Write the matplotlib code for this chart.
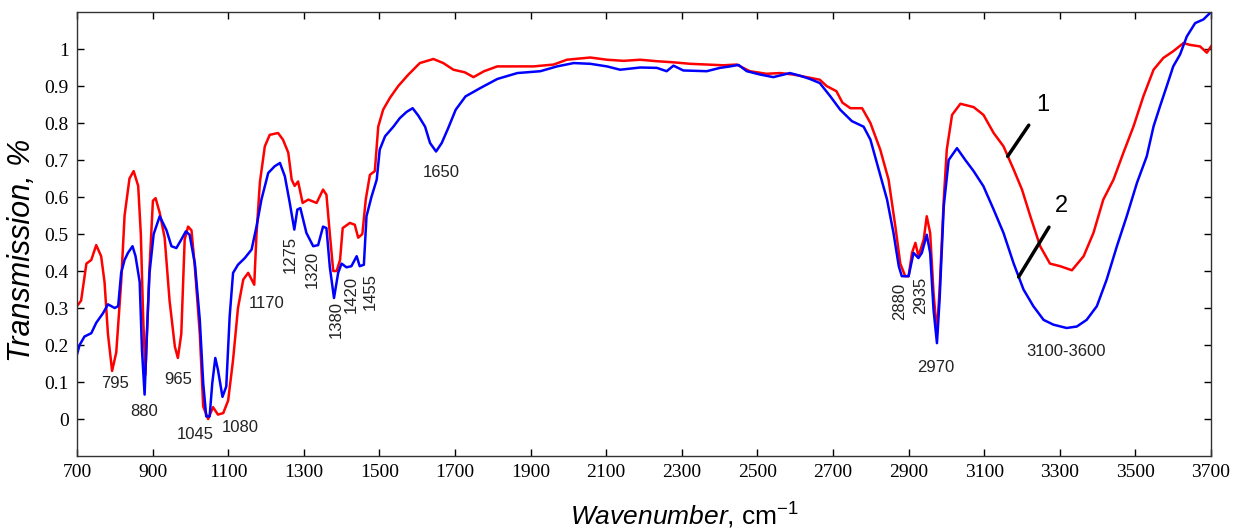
import matplotlib
matplotlib.use("Agg")
import matplotlib.pyplot as plt
import numpy as np

plt.rcParams["mathtext.fontset"] = "custom"
plt.rcParams["mathtext.rm"] = "Liberation Sans"
plt.rcParams["mathtext.it"] = "Liberation Sans:italic"

# curve 1 (red)
wn_1 = [700, 711, 725, 738, 751, 764, 773, 782, 793, 804, 817, 826, 839, 850, 862, 869, 875, 881, 886, 892,
        901, 908, 919, 932, 945, 959, 967, 976, 985, 994, 1003, 1012, 1025, 1034, 1047, 1060, 1073, 1087, 1100,
        1113, 1126, 1140, 1153, 1162, 1169, 1175, 1184, 1197, 1210, 1232, 1245, 1259, 1268, 1276, 1285, 1297,
        1312, 1334, 1351, 1360, 1369, 1378, 1387, 1396, 1403, 1422, 1435, 1444, 1455, 1464, 1475, 1488, 1497,
        1510, 1528, 1550, 1576, 1607, 1643, 1669, 1696, 1726, 1749, 1777, 1812, 1856, 1908, 1961, 1996, 2058,
        2102, 2146, 2190, 2234, 2278, 2322, 2366, 2410, 2445, 2480, 2524, 2560, 2595, 2630, 2665, 2683, 2709,
        2725, 2746, 2777, 2799, 2825, 2847, 2865, 2878, 2891, 2900, 2909, 2918, 2926, 2940, 2948, 2957, 2966,
        2975, 2982, 2993, 3001, 3015, 3037, 3072, 3098, 3125, 3151, 3178, 3200, 3222, 3248, 3274, 3301, 3332,
        3363, 3389, 3415, 3442, 3468, 3495, 3521, 3548, 3574, 3600, 3627, 3645, 3671, 3689, 3700]
tr_1 = [.305, .32, .42, .43, .47, .44, .37, .23, .13, .18, .37, .55, .65, .67, .63, .50, .28, .12, .25, .41,
        .59, .597, .557, .49, .32, .196, .165, .23, .485, .52, .51, .41, .23, .034, 0.0, .032, .012, .016, .05,
        .16, .30, .377, .395, .377, .363, .50, .64, .737, .768, .773, .755, .72, .647, .63, .642, .584,
        .593, .584, .62, .606, .50, .40, .40, .43, .516, .53, .525, .49, .50, .593, .66, .67, .79,
        .836, .868, .90, .93, .962, .973, .962, .944, .937, .924, .94, .953, .953, .953, .958, .971, .977,
        .971, .968, .971, .967, .964, .96, .958, .956, .958, .94, .933, .935, .931, .924, .917, .90, .886,
        .855, .84, .84, .80, .728, .647, .52, .42, .386, .386, .449, .476, .44, .485, .548, .503, .34,
        .232, .35, .593, .728, .822, .852, .843, .822, .773, .737, .674, .62, .548, .467, .42, .413, .402,
        .44, .503, .593, .647, .719, .791, .872, .944, .976, .994, 1.016, 1.011, 1.007, .99, 1.007]

# curve 2 (blue)
wn_2 = [700, 707, 720, 738, 751, 769, 782, 800, 809, 817, 826, 835, 847, 855, 866, 872, 879, 885, 892, 903,
        919, 937, 950, 963, 976, 988, 998, 1012, 1025, 1034, 1042, 1051, 1058, 1066, 1073, 1085, 1095, 1104,
        1113, 1126, 1144, 1162, 1175, 1188, 1206, 1223, 1237, 1250, 1263, 1275, 1283, 1291, 1307, 1325, 1338,
        1351, 1360, 1369, 1380, 1391, 1400, 1413, 1426, 1440, 1448, 1459, 1466, 1479, 1493, 1501, 1515, 1537,
        1554, 1572, 1588, 1603, 1621, 1634, 1650, 1665, 1682, 1702, 1728, 1768, 1812, 1865, 1926, 1970, 2014,
        2058, 2102, 2137, 2190, 2234, 2260, 2278, 2304, 2366, 2401, 2428, 2450, 2472, 2507, 2542, 2586, 2612,
        2639, 2665, 2693, 2719, 2750, 2781, 2799, 2821, 2843, 2860, 2874, 2882, 2900, 2913, 2926, 2935, 2948,
        2957, 2966, 2975, 2982, 2993, 3006, 3028, 3050, 3072, 3098, 3125, 3151, 3178, 3204, 3230, 3257, 3283,
        3318, 3345, 3371, 3398, 3424, 3451, 3477, 3504, 3530, 3548, 3565, 3583, 3600, 3618, 3636, 3658, 3680,
        3700]
tr_2 = [.174, .20, .223, .232, .26, .286, .31, .30, .305, .395, .43, .449, .467, .44, .37, .187, .066, .23, .395, .50,
        .548, .51, .467, .462, .485, .507, .498, .42, .268, .097, .007, .007, .097, .165, .133, .06, .088, .277,
        .395, .417, .435, .458, .52, .593, .665, .683, .692, .656, .584, .512, .566, .57, .503, .467, .47,
        .52, .516, .41, .327, .395, .42, .41, .413, .44, .413, .417, .548, .60, .647, .728, .764, .79,
        .813, .83, .84, .82, .79, .746, .723, .746, .786, .836, .872, .895, .919, .935, .94, .953, .962,
        .96, .953, .944, .95, .949, .94, .955, .942, .94, .949, .953, .957, .94, .931, .924, .935, .928,
        .919, .908, .872, .836, .805, .79, .755, .674, .593, .503, .413, .386, .386, .449, .435, .449, .498,
        .449, .295, .205, .323, .575, .70, .732, .70, .67, .629, .566, .503, .42, .35, .305, .268, .255,
        .246, .25, .268, .305, .377, .467, .548, .638, .71, .791, .845, .90, .953, .985, 1.034, 1.07, 1.08,
        1.10]

# peak labels: (text, wavenumber, value, rotation)
peak_labels = [("795", 800, 0.097, 0), ("880", 879, 0.019, 0), ("965", 969, 0.108, 0),
               ("1045", 1012, -0.042, 0), ("1080", 1131, -0.024, 0), ("1170", 1201, 0.313, 0),
               ("1275", 1263, 0.444, 90), ("1320", 1323, 0.404, 90), ("1380", 1385, 0.268, 90),
               ("1420", 1426, 0.336, 90), ("1455", 1477, 0.345, 90), ("1650", 1663, 0.667, 0),
               ("2880", 2876, 0.318, 90), ("2935", 2933, 0.333, 90), ("2970", 2973, 0.138, 0),
               ("3100-3600", 3316, 0.183, 0)]

fig = plt.figure(figsize=(12.37, 5.31), dpi=100)
ax = fig.add_axes([0.0622, 0.1412, 0.9168, 0.8362])

ax.plot(wn_1, tr_1, color="#ff0000", lw=1.8)
ax.plot(wn_2, tr_2, color="#0000ff", lw=1.8)

ax.set_xlim(700, 3700)
ax.set_ylim(-0.1, 1.1)
ax.set_xticks(np.arange(700, 3701, 200))
ax.set_yticks([0, 0.1, 0.2, 0.3, 0.4, 0.5, 0.6, 0.7, 0.8, 0.9, 1])
ax.set_yticklabels(["0", "0.1", "0.2", "0.3", "0.4", "0.5", "0.6", "0.7", "0.8", "0.9", "1"])
ax.tick_params(direction="in", length=5, width=1, top=True, right=True, labelsize=14, pad=6)
for lab in ax.get_xticklabels() + ax.get_yticklabels():
    lab.set_family("Liberation Serif")
for sp in ax.spines.values():
    sp.set_linewidth(1)
    sp.set_color("#333333")

for txt, x, y, rot in peak_labels:
    ax.text(x, y, txt, rotation=rot, ha="center", va="center", fontsize=12,
            family="Liberation Sans", color="#222222")

ax.annotate("1", xy=(3162, 0.71), xytext=(3255, 0.85), ha="center", va="center",
            fontsize=17, family="Liberation Sans",
            arrowprops=dict(arrowstyle="-", lw=2.5, color="black", shrinkA=6, shrinkB=0))
ax.annotate("2", xy=(3191, 0.384), xytext=(3305, 0.575), ha="center", va="center",
            fontsize=17, family="Liberation Sans",
            arrowprops=dict(arrowstyle="-", lw=2.5, color="black", shrinkA=6, shrinkB=0))

ax.text(-0.0485, 0.464, "Transmission, %", transform=ax.transAxes, rotation=90,
        ha="center", va="center", fontsize=22, style="italic", family="Liberation Sans")
ax.text(0.536, -0.135, r"$\it{Wavenumber}$, cm$^{-1}$", transform=ax.transAxes,
        ha="center", va="center", fontsize=19, family="Liberation Sans")

fig.savefig("out.png", dpi=100)
